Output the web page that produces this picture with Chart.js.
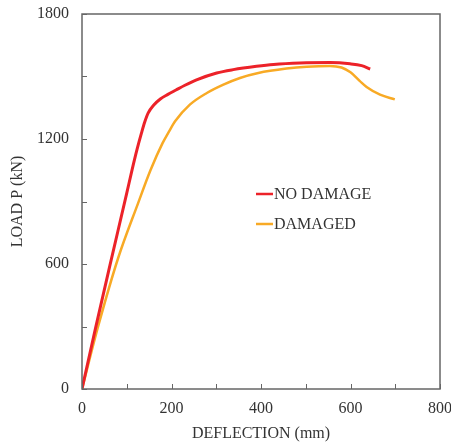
<!DOCTYPE html>
<html>
<head>
<meta charset="utf-8">
<script src="https://cdn.jsdelivr.net/npm/chart.js@4"></script>
<style>
  html, body { margin: 0; padding: 0; background: #fff; }
  #wrap { width: 451px; height: 446px; }
</style>
</head>
<body>
<div id="wrap"><canvas id="chart" width="451" height="446"></canvas></div>
<script>
// Load-deflection curves
const seriesNames = ["NO DAMAGE", "DAMAGED"];
const seriesColors = ["#ec2229", "#f8aa25"];

const noDamageX = [0, 30, 62, 100, 112, 123, 133, 140, 148, 160, 175, 192, 210, 230, 256, 301, 338, 390, 428, 487, 554, 599, 625, 644];
const noDamageY = [0, 290, 590, 940, 1053, 1150, 1229, 1280, 1325, 1362, 1392, 1414, 1435, 1458, 1484, 1517, 1533, 1549, 1558, 1565, 1567, 1561, 1552, 1536];

const damagedX = [0, 36, 81, 125, 153, 180, 195, 208, 241, 279, 316, 353, 394, 457, 502, 554, 580, 600, 621, 636, 666, 699];
const damagedY = [0, 300, 630, 890, 1050, 1180, 1238, 1285, 1365, 1421, 1461, 1493, 1517, 1538, 1547, 1551, 1543, 1520, 1478, 1450, 1413, 1390];

const xTicks = [0, 200, 400, 600, 800];
const yTicks = [0, 600, 1200, 1800];

const textColor = "#333";
const frameColor = "#666";
const font = { family: "'Liberation Serif', 'Times New Roman', serif", size: 16 };

const toPoints = (xs, ys) => xs.map((x, i) => ({ x, y: ys[i] }));

// frame box, inward tick marks and the in-plot legend
const framePlugin = {
    id: "frame",
    afterDraw(chart) {
        const { ctx, chartArea: a, scales } = chart;
        ctx.save();
        ctx.strokeStyle = frameColor;
        ctx.lineWidth = 1.5;
        ctx.strokeRect(a.left, a.top, a.right - a.left, a.bottom - a.top);

        ctx.lineWidth = 1;
        scales.x.ticks.forEach((t) => {
            const px = Math.round(scales.x.getPixelForValue(t.value)) + 0.5;
            ctx.beginPath();
            ctx.moveTo(px, a.bottom);
            ctx.lineTo(px, a.bottom - 5);
            ctx.stroke();
        });
        scales.y.ticks.forEach((t) => {
            const py = Math.round(scales.y.getPixelForValue(t.value)) + 0.5;
            ctx.beginPath();
            ctx.moveTo(a.left, py);
            ctx.lineTo(a.left + 5, py);
            ctx.stroke();
        });

        // legend
        ctx.font = `${font.size}px ${font.family}`;
        ctx.textBaseline = "middle";
        ctx.fillStyle = textColor;
        chart.data.datasets.forEach((ds, i) => {
            const y = 194 + i * 30;
            ctx.strokeStyle = ds.borderColor;
            ctx.lineWidth = 2.5;
            ctx.beginPath();
            ctx.moveTo(256, y);
            ctx.lineTo(273, y);
            ctx.stroke();
            ctx.fillText(ds.label, 274, y + 1);
        });
        ctx.restore();
    },
};

new Chart(document.getElementById("chart"), {
    type: "line",
    data: {
        datasets: [
            {
                label: seriesNames[0],
                data: toPoints(noDamageX, noDamageY),
                borderColor: seriesColors[0],
                borderWidth: 3,
                pointRadius: 0,
                cubicInterpolationMode: "monotone",
            },
            {
                label: seriesNames[1],
                data: toPoints(damagedX, damagedY),
                borderColor: seriesColors[1],
                borderWidth: 2.5,
                pointRadius: 0,
                cubicInterpolationMode: "monotone",
            },
        ],
    },
    options: {
        responsive: false,
        animation: false,
        layout: { padding: { top: 14, right: 11, left: 0, bottom: 0 } },
        plugins: { legend: { display: false }, tooltip: { enabled: false } },
        scales: {
            x: {
                type: "linear",
                min: 0,
                max: 800,
                ticks: {
                    stepSize: 100,
                    padding: 10,
                    color: textColor,
                    font,
                    maxRotation: 0,
                    callback: (v) => (xTicks.includes(v) ? String(v) : ""),
                },
                grid: { display: false, drawTicks: false },
                border: { display: false },
                title: {
                    display: true,
                    text: "DEFLECTION (mm)",
                    color: textColor,
                    font,
                    padding: { top: 0, bottom: 3 },
                },
                afterFit: (s) => {
                    s.height = 57;
                    s.paddingLeft = 0;
                    s.paddingRight = 0;
                },
            },
            y: {
                min: 0,
                max: 1800,
                ticks: {
                    stepSize: 300,
                    padding: 13,
                    color: textColor,
                    font,
                    callback: (v) => (yTicks.includes(v) ? String(v) : ""),
                },
                grid: { display: false, drawTicks: false },
                border: { display: false },
                title: {
                    display: true,
                    text: "LOAD P (kN)",
                    color: textColor,
                    font,
                    padding: { top: 8, bottom: 0 },
                },
                afterFit: (s) => {
                    s.width = 82;
                    s.paddingTop = 0;
                    s.paddingBottom = 0;
                },
            },
        },
    },
    plugins: [framePlugin],
});
</script>
</body>
</html>
